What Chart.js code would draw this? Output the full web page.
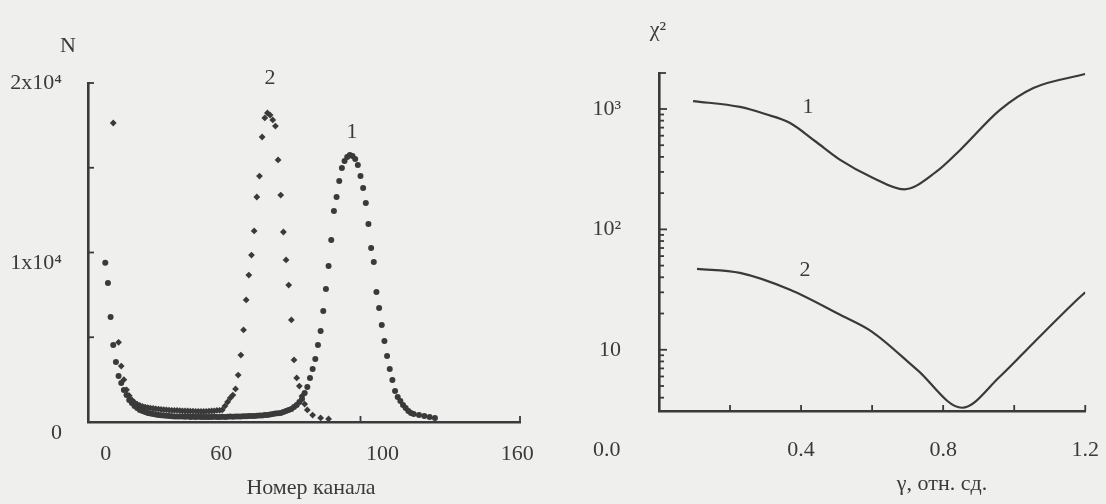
<!DOCTYPE html>
<html><head><meta charset="utf-8">
<script src="https://cdn.jsdelivr.net/npm/chart.js@4"></script>
<style>
html,body{margin:0;padding:0;background:#efefee;}
#wrap{position:relative;width:1106px;height:504px;overflow:hidden;background:#efefee;}
canvas{position:absolute;top:0;}
#c1{left:0;} #c2{left:560px;}
</style></head><body><div id="wrap"><canvas id="c1" width="560" height="504"></canvas><canvas id="c2" width="565" height="504"></canvas></div>
<script>
// ---------- Left chart data: counts N vs channel number ----------
const channels1 = [4,5,6,7,8,9,10,11,12,13,14,15,16,17,18,19,20,21,22,23,24,25,26,27,28,29,30,
  31,32,33,34,35,36,37,38,39,40,41,42,43,44,45,46,47,48,49,50,51,52,53,54,55,56,57,58,59,60,
  61,62,63,64,65,66,67,68,69,70,71,72,73,74,75,76,77,78,79,80,81,82,83,84,85,86,87,88,89,90,
  91,92,93,94,95,96,97,98,99,100,101,102,103,104,105,106,107,108,109,110,111,112,113,114,115,
  116,117,118,119,120,122,124,126,128];
const counts1 = [9400,8200,6200,4540,3540,2710,2300,1890,1590,1300,1120,940,830,710,650,590,530,500,470,440,410,400,380,370,350,340,330,
  330,320,330,310,320,300,310,300,310,290,300,300,290,300,310,290,300,310,300,310,320,310,320,330,330,340,340,350,350,350,
  370,380,390,410,420,440,470,500,510,530,590,650,710,770,885,1000,1180,1360,1710,2065,2600,3130,3720,4540,5370,6550,7850,9200,10740,12450,
  13275,14220,14990,15400,15635,15750,15690,15520,15160,14510,13800,12920,11680,10270,9440,7670,6730,5720,4780,3890,3130,2480,1830,1475,1240,
  1000,830,650,530,470,410,350,300,240];
const channels2 = [7,9,10,11,12,13,14,15,16,17,18,19,20,21,22,23,24,25,26,27,28,29,30,31,32,33,34,35,36,37,38,39,40,41,42,43,44,45,46,47,
  48,49,50,51,52,53,54,55,56,57,58,59,60,61,62,63,64,65,66,67,68,69,70,71,72,73,74,75,76,77,78,79,80,82,85,88];
const counts2 = [17640,4700,3300,2500,1900,1550,1300,1150,1050,980,920,880,850,820,800,780,760,740,730,720,700,690,680,680,670,660,650,650,640,640,630,630,620,620,630,640,650,660,680,690,
  710,940,1180,1415,1590,1950,2770,3950,5430,7200,8670,9850,11270,13275,14510,16815,17940,18230,18110,17820,17460,15460,13390,11210,9560,8080,6020,3660,2600,2120,1530,1060,710,410,240,180];
const xTicks1 = [0,60,100,160];
const xTickLabels1 = ['0','60','100','160'];
const yTicks1 = [0,5000,10000,15000,20000];
const yTickLabels1 = {0:['','0'],10000:['','1x10\u2074'],20000:'2x10\u2074'};

// ---------- Right chart data: chi^2 vs gamma ----------
const gamma1 = [0.096,0.228,0.299,0.369,0.439,0.51,0.6,0.69,0.78,0.848,0.96,1.054,1.2];
const chi1   = [1164,1040,908,765,542,378,270,215,300,457,982,1493,1950];
const gamma2 = [0.107,0.228,0.369,0.51,0.6,0.727,0.853,0.96,1.054,1.177,1.2];
const chi2   = [47,43.5,31.5,19.5,14.1,6.8,3.3,6.0,11.4,26,30];
const xTicks2 = [0,0.2,0.4,0.6,0.8,1.0,1.2];
const xTickLabels2 = {0:'0.0',0.4:'0.4',0.8:'0.8',1.2:'1.2'};
const yTicks2 = [10,100,1000];
const yTickLabels2 = {10:'10',100:'10\u00B2',1000:'10\u00B3'};
const yMinor2 = [4,5,6,7,8,9,20,30,40,50,60,70,80,90,200,300,400,500,600,700,800,900];

const INK = '#3a3a3a';
const SERIF = "'Liberation Serif', 'DejaVu Serif', serif";

function padLabel(s, shiftPx){ // shift a centred label horizontally using spaces
  const n = Math.round(Math.abs(shiftPx)*2/5.5);
  const sp = ' '.repeat(n);
  return shiftPx < 0 ? s + sp : sp + s;
}

const decor = {
  id:'decor',
  afterDraw(chart, args, o){
    const ctx = chart.ctx, xs = chart.scales.x, ys = chart.scales.y;
    ctx.save();
    ctx.strokeStyle = INK; ctx.lineWidth = 1.8; ctx.lineCap='butt';
    (o.xMarks||[]).forEach(v=>{const px=xs.getPixelForValue(v); ctx.beginPath(); ctx.moveTo(px, xs.top); ctx.lineTo(px, xs.top-o.xLen); ctx.stroke();});
    (o.yMarks||[]).forEach(m=>{const py=ys.getPixelForValue(m[0]); ctx.beginPath(); ctx.moveTo(ys.right, py); ctx.lineTo(ys.right+m[1], py); ctx.stroke();});
    ctx.fillStyle = INK; ctx.textAlign='center'; ctx.textBaseline='middle';
    (o.texts||[]).forEach(t=>{ctx.font=t.f; ctx.fillText(t.s, t.x, t.y);});
    ctx.restore();
  }
};

const tickFont = {family:SERIF, size:22};

new Chart(document.getElementById('c1'), {
  type:'scatter',
  data:{datasets:[
    {label:'1', data: channels1.map((c,i)=>({x:c,y:counts1[i]})), pointStyle:'circle', pointRadius:3, backgroundColor:INK, borderWidth:0},
    {label:'2', data: channels2.map((c,i)=>({x:c,y:counts2[i]})), pointStyle:'rectRot', pointRadius:3.4, backgroundColor:INK, borderWidth:0}
  ]},
  options:{
    responsive:false, animation:false, devicePixelRatio:1,
    layout:{padding:{left:0,top:83,right:40,bottom:0}},
    plugins:{legend:{display:false}, tooltip:{enabled:false},
      decor:{
        xMarks:[100,160], xLen:6,
        yMarks: yTicks1.map(v=>[v,6]),
        texts:[
          {s:'N', x:68, y:46, f:"22px "+SERIF},
          {s:'2', x:270, y:78, f:"22px "+SERIF},
          {s:'1', x:352, y:132, f:"22px "+SERIF},
          {s:'Номер канала', x:311, y:488, f:"22px "+SERIF}
        ]}},
    scales:{
      x:{type:'linear', min:-2.5, max:160,
        grid:{display:false, drawTicks:false}, border:{display:true, color:INK, width:2.6},
        afterBuildTicks:a=>{a.ticks = xTicks1.map(v=>({value:v}));},
        ticks:{autoSkip:false, maxRotation:0, font:tickFont, color:INK, padding:19,
          callback:(v)=>{const i=xTicks1.indexOf(v); const sh={0:11,60:-32,100:22,160:-2}[v]||0; return i<0?'':padLabel(xTickLabels1[i], sh);}},
        afterFit:s=>{s.height=82;}},
      y:{type:'linear', min:0, max:20000,
        grid:{display:false, drawTicks:false}, border:{display:true, color:INK, width:2.6},
        afterBuildTicks:a=>{a.ticks = yTicks1.map(v=>({value:v}));},
        ticks:{autoSkip:false, font:{family:SERIF, size:22, lineHeight:1.0}, color:INK, padding:26,
          callback:(v)=> yTickLabels1[v] || ''},
        afterFit:s=>{s.width=88;}}
    }
  },
  plugins:[decor]
});

new Chart(document.getElementById('c2'), {
  type:'line',
  data:{datasets:[
    {label:'1', data: gamma1.map((g,i)=>({x:g,y:chi1[i]})), borderColor:INK, borderWidth:2.2, pointRadius:0, cubicInterpolationMode:'monotone', fill:false},
    {label:'2', data: gamma2.map((g,i)=>({x:g,y:chi2[i]})), borderColor:INK, borderWidth:2.2, pointRadius:0, cubicInterpolationMode:'monotone', fill:false}
  ]},
  options:{
    responsive:false, animation:false, devicePixelRatio:1,
    layout:{padding:{left:0,top:73,right:0,bottom:0}},
    plugins:{legend:{display:false}, tooltip:{enabled:false},
      decor:{
        xMarks:[0.2,0.4,0.6,0.8,1.0,1.2], xLen:6,
        yMarks: yTicks2.map(v=>[v,8]).concat(yMinor2.map(v=>[v,5])).concat([[1990,7]]),
        texts:[
          {s:'\u03C7\u00B2', x:98, y:30, f:"22px "+SERIF},
          {s:'1', x:248, y:107, f:"22px "+SERIF},
          {s:'2', x:245, y:270, f:"22px "+SERIF},
          {s:'\u03B3, отн. сд.', x:382, y:484, f:"22px "+SERIF}
        ]}},
    scales:{
      x:{type:'linear', min:0, max:1.2,
        grid:{display:false, drawTicks:false}, border:{display:true, color:INK, width:2.6},
        afterBuildTicks:a=>{a.ticks = xTicks2.map(v=>({value:v}));},
        ticks:{autoSkip:false, maxRotation:0, font:tickFont, color:INK, padding:26,
          callback:(v)=>{const k=Math.round(v*10)/10; const s=xTickLabels2[k]; if(!s) return ''; return k===0?padLabel(s,-51):s;}},
        afterFit:s=>{s.height=93;}},
      y:{type:'logarithmic', min:3.1, max:1990,
        grid:{display:false, drawTicks:false}, border:{display:true, color:INK, width:2.6},
        afterBuildTicks:a=>{a.ticks = yTicks2.map(v=>({value:v}));},
        ticks:{autoSkip:false, font:tickFont, color:INK, padding:38,
          callback:(v)=> yTickLabels2[v] || ''},
        afterFit:s=>{s.width=99;}}
    }
  },
  plugins:[decor]
});
</script></body></html>
